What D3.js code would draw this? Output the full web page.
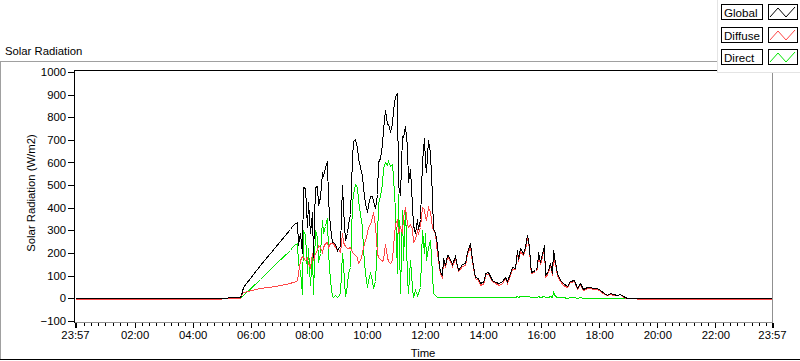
<!DOCTYPE html>
<html><head><meta charset="utf-8">
<script src="https://cdn.jsdelivr.net/npm/d3@7"></script>
<style>
html,body{margin:0;padding:0;background:#fff;}
svg{display:block;font-family:"Liberation Sans",Arial,sans-serif;}
</style></head><body>
<svg id="chart" width="800" height="361"></svg>
<script>
// time in minutes after midnight (negative = previous day)
const timeMin = [-3,298,299,312,313,338,340,344,379,410,441,445,450,
455,458,462,465,469,472,476,479,483,486,489,493,496,500,503,507,510,514,517,520,524,527,531,534,538,541,
545,548,551,555,558,562,565,569,572,576,579,582,586,589,593,596,600,603,606,610,613,617,620,624,
627,631,634,637,641,644,648,651,655,658,662,665,668,672,675,679,682,686,689,693,696,699,703,706,710,
713,717,720,723,727,730,734,737,741,744,748,751,755,758,761,765,
768,775,782,789,796,803,806,813,817,823,830,834,841,844,851,854,858,865,872,879,885,889,896,899,906,
910,913,916,923,927,930,934,937,940,947,951,954,958,965,968,975,978,982,985,989,992,999,
1006,1013,1020,1027,1034,1040,1047,1054,1061,1068,1075,1082,1089,1096,1102,1109,1116,1123,1130,1137,1144,1157,1158,1437];

const globalW = [0,0,0,0,7,7,15,51,146,228,305,318,330,
337,234,287,200,491,485,315,425,287,381,183,491,498,410,447,557,542,579,608,432,315,249,249,240,215,222,
230,500,400,256,290,330,374,620,696,704,667,620,580,540,491,420,380,410,450,450,430,400,462,600,
620,680,750,830,770,770,740,770,830,894,909,500,454,718,711,762,667,513,572,410,322,290,350,308,350,
600,710,600,560,700,640,450,308,293,235,146,117,102,176,146,190,
190,150,186,124,150,154,205,242,168,95,88,66,75,110,117,100,80,73,66,75,95,75,110,139,135,
212,175,220,200,227,278,230,154,117,125,139,205,160,234,102,120,154,110,212,161,110,80,
66,55,78,80,47,68,40,48,51,45,44,37,22,15,22,18,15,20,8,3,0,0,0,0];

const diffuseW = [-4,-4,0,0,0,2,15,29,43,56,69,70,72,
80,110,168,185,183,168,183,154,139,198,168,198,212,234,227,205,227,242,249,227,242,245,242,225,212,218,
205,286,250,230,220,220,227,205,198,190,183,154,168,198,227,256,286,315,330,360,380,320,198,180,
175,165,175,240,180,165,155,170,230,330,350,286,315,286,359,403,330,315,330,308,249,260,300,290,315,
403,396,359,344,403,381,315,300,286,198,140,110,95,168,138,182,
183,143,178,118,143,146,196,232,160,89,82,60,69,103,110,94,74,67,60,69,88,69,103,131,127,
202,166,210,191,217,266,220,146,110,118,131,196,152,224,95,113,146,103,188,152,103,74,
60,50,72,74,42,63,36,43,46,41,40,33,19,12,19,15,12,17,6,2,0,0,-4,-4];

const directW = [0,0,0,0,0,0,5,12,85,150,215,225,235,
245,150,120,20,300,280,110,220,60,200,20,300,270,160,200,345,290,320,355,205,80,10,7,15,5,10,
22,200,150,10,60,110,139,420,462,506,491,432,374,315,212,110,51,80,110,80,45,75,256,420,
450,510,575,600,590,608,585,594,535,388,110,462,22,388,168,403,95,22,168,51,7,37,15,22,51,
300,198,286,168,227,256,110,22,15,7,6,5,6,5,5,5,
5,4,5,4,5,4,6,5,6,4,5,4,6,5,7,5,4,5,6,5,6,5,7,6,7,
8,7,9,8,10,9,8,6,5,6,7,8,7,9,6,7,8,7,28,9,6,4,
4,3,4,4,3,4,3,3,3,3,3,3,3,3,3,3,3,2,1,0,0,0,0,0];

const yTicks = [-100,0,100,200,300,400,500,600,700,800,900,1000];
const xTickLabels = ["23:57","02:00","04:00","06:00","08:00","10:00","12:00","14:00","16:00","18:00","20:00","22:00","23:57"];
const seriesNames = ["Global","Diffuse","Direct"];
const seriesColors = ["#000000","#ff4646","#00e600"];
const chartTitle = "Solar Radiation";
const yTitle = "Solar Radiation (W/m2)";
const xTitle = "Time";

const svg = d3.select("#chart");
const FONT = 11.3;

const toMin = (s, i) => {
  const [h, m] = s.split(":").map(Number);
  let v = h * 60 + m;
  if (i === 0 && v > 720) v -= 1440;
  return v;
};
const xMajor = xTickLabels.map(toMin);

const x = d3.scaleLinear().domain([xMajor[0], xMajor[xMajor.length - 1]]).range([75, 772]);
const y = d3.scaleLinear().domain([-100, 1000]).range([320.8, 72]);

// outer panel frame
svg.append("line").attr("x1",0).attr("x2",717).attr("y1",61.5).attr("y2",61.5).attr("stroke","#a0a0a0");
svg.append("line").attr("x1",0.5).attr("x2",0.5).attr("y1",61).attr("y2",360).attr("stroke","#a0a0a0");
svg.append("line").attr("x1",0).attr("x2",800).attr("y1",359.5).attr("y2",359.5).attr("stroke","#000");

svg.append("text").attr("x",5).attr("y",55).attr("font-size",FONT).attr("fill","#000").text(chartTitle);

// plot area
svg.append("rect").attr("x",75).attr("y",71).attr("width",697).attr("height",251).attr("fill","#fff");
svg.append("defs").append("clipPath").attr("id","clip")
  .append("rect").attr("x",75).attr("y",71).attr("width",697).attr("height",251);

// series lines
const data = timeMin.map((t, i) => ({t, g: globalW[i], d: diffuseW[i], r: directW[i]}));
const keys = ["g", "d", "r"];
const gLines = svg.append("g").attr("clip-path","url(#clip)");
[2, 1, 0].forEach(si => {
  const k = keys[si];
  const ln = d3.line().x(p => Math.round(x(p.t)) + 0.5).y(p => Math.round(y(p[k])) + 0.5);
  gLines.append("path").datum(data).attr("d", ln)
    .attr("fill","none").attr("stroke", seriesColors[si]).attr("stroke-width",1)
    .attr("shape-rendering","crispEdges");
});

// borders of plot
svg.append("line").attr("x1",74.5).attr("x2",772).attr("y1",70.5).attr("y2",70.5).attr("stroke","#000");
svg.append("line").attr("x1",74.5).attr("x2",74.5).attr("y1",70).attr("y2",323).attr("stroke","#000");
svg.append("line").attr("x1",75).attr("x2",772.5).attr("y1",322.5).attr("y2",322.5).attr("stroke","#909090");
svg.append("line").attr("x1",772.5).attr("x2",772.5).attr("y1",70).attr("y2",323).attr("stroke","#909090");

// y axis
const yAxis = d3.axisLeft(y).tickValues(yTicks).tickSize(6).tickPadding(2).tickFormat(d3.format("d"));
const gy = svg.append("g").attr("transform","translate(74,0)").call(yAxis);
gy.select(".domain").remove();
gy.selectAll("text").attr("font-size",FONT).attr("font-family","Liberation Sans, Arial, sans-serif").attr("fill","#000");
gy.selectAll("line").attr("stroke","#000").attr("shape-rendering","crispEdges");

// x axis minor
const minor = d3.range(0, 1440, 15).filter(v => !xMajor.includes(v) && v > xMajor[0] && v < xMajor[xMajor.length-1]);
const gxm = svg.append("g").attr("transform","translate(0,323)")
  .call(d3.axisBottom(x).tickValues(minor).tickSize(3).tickFormat(""));
gxm.select(".domain").remove();
gxm.selectAll("line").attr("stroke","#000").attr("shape-rendering","crispEdges");

// x axis major
const gx = svg.append("g").attr("transform","translate(0,323)")
  .call(d3.axisBottom(x).tickValues(xMajor).tickSize(5).tickPadding(3).tickFormat((d, i) => xTickLabels[i]));
gx.select(".domain").remove();
gx.selectAll("line").attr("stroke","#000").attr("shape-rendering","crispEdges");
gx.selectAll(".tick").filter((d, i) => i === 0 || i === xMajor.length - 1).select("line").attr("stroke-width",2);
gx.selectAll("text").attr("font-size",FONT).attr("font-family","Liberation Sans, Arial, sans-serif").attr("fill","#000");

// axis titles
svg.append("text").attr("transform","translate(35,193) rotate(-90)").attr("text-anchor","middle")
  .attr("font-size",FONT).attr("fill","#000").text(yTitle);
svg.append("text").attr("x",423).attr("y",357).attr("text-anchor","middle")
  .attr("font-size",FONT).attr("fill","#000").text(xTitle);

// legend
const lg = svg.append("g");
lg.append("rect").attr("x",717).attr("y",-1).attr("width",84).attr("height",73.5).attr("fill","#fff");
lg.append("line").attr("x1",717.5).attr("x2",717.5).attr("y1",0).attr("y2",72).attr("stroke","#e4e4e4");
lg.append("line").attr("x1",717).attr("x2",800).attr("y1",72.5).attr("y2",72.5).attr("stroke","#e4e4e4");
seriesNames.forEach((name, i) => {
  const top = 4 + i * 22.7;
  const ty = Math.round(top) + 0.5;
  lg.append("rect").attr("x",721.5).attr("y",ty).attr("width",41).attr("height",15)
    .attr("fill","#fff").attr("stroke","#000");
  lg.append("text").attr("x",724).attr("y",ty + 12.5).attr("font-size",11.6).attr("fill","#000").text(name);
  lg.append("rect").attr("x",768.5).attr("y",ty).attr("width",29).attr("height",15)
    .attr("fill","#fff").attr("stroke","#000");
  lg.append("polyline")
    .attr("points", [[770, ty+12.5],[778, ty+3.5],[786, ty+12.5],[795, ty+2.5]].map(p => p.join(",")).join(" "))
    .attr("fill","none").attr("stroke", seriesColors[i]).attr("stroke-width",1);
});
</script>
</body></html>
